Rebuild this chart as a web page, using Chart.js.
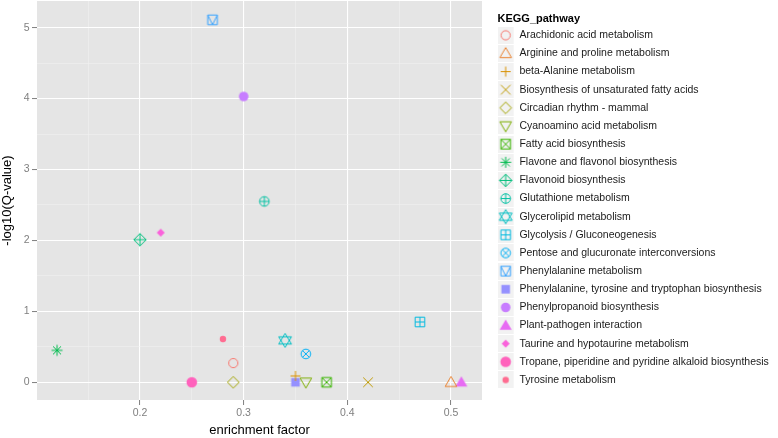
<!DOCTYPE html>
<html lang="en">
<head>
  <meta charset="UTF-8">
  <title>KEGG pathway enrichment</title>
  <script src="https://cdn.jsdelivr.net/npm/chart.js"></script>
  <style>
    html, body { margin: 0; padding: 0; background: #fff; overflow: hidden; }
  </style>
</head>
<body>
  <canvas id="keggChart" width="778" height="438"></canvas>

  <script>
    // data
    const pathways = [
      'Arachidonic acid metabolism',
      'Arginine and proline metabolism',
      'beta-Alanine metabolism',
      'Biosynthesis of unsaturated fatty acids',
      'Circadian rhythm - mammal',
      'Cyanoamino acid metabolism',
      'Fatty acid biosynthesis',
      'Flavone and flavonol biosynthesis',
      'Flavonoid biosynthesis',
      'Glutathione metabolism',
      'Glycerolipid metabolism',
      'Glycolysis / Gluconeogenesis',
      'Pentose and glucuronate interconversions',
      'Phenylalanine metabolism',
      'Phenylalanine, tyrosine and tryptophan biosynthesis',
      'Phenylpropanoid biosynthesis',
      'Plant-pathogen interaction',
      'Taurine and hypotaurine metabolism',
      'Tropane, piperidine and pyridine alkaloid biosynthesis',
      'Tyrosine metabolism'
    ];
    const enrichmentFactor = [0.29, 0.50, 0.35, 0.42, 0.29, 0.36, 0.38, 0.12, 0.20, 0.32,
                              0.34, 0.47, 0.36, 0.27, 0.35, 0.30, 0.51, 0.22, 0.25, 0.28];
    const negLog10Q = [0.27, 0.00, 0.09, 0.00, 0.00, 0.00, 0.00, 0.45, 2.01, 2.55,
                       0.59, 0.85, 0.40, 5.11, 0.00, 4.03, 0.00, 2.11, 0.00, 0.61];
    const xTicks = [0.2, 0.3, 0.4, 0.5];
    const xMinor = [0.15, 0.25, 0.35, 0.45];
    const yTicks = [0, 1, 2, 3, 4, 5];
    const yMinor = [0.5, 1.5, 2.5, 3.5, 4.5];

    // ggplot default hue palette and shapes 1..20
    const colors = ['#F8766D', '#EA8331', '#D89000', '#C09B00', '#A3A500', '#7CAE00', '#39B600',
                    '#00BB4E', '#00BF7D', '#00C1A3', '#00BFC4', '#00BAE0', '#00B0F6', '#35A2FF',
                    '#9590FF', '#C77CFF', '#E76BF3', '#FA62DB', '#FF62BC', '#FF6C91'];
    const shapes = ['circle', 'triangle', 'plus', 'cross', 'diamond', 'triangleDown', 'squareCross',
                    'asterisk', 'diamondPlus', 'circlePlus', 'hexagram', 'squarePlus', 'circleCross',
                    'squareV', 'squareFilled', 'circleFilled', 'triangleFilled', 'diamondFilled',
                    'circleLarge', 'circleSmall'];

    const FONT = 'Liberation Sans, Arial, Helvetica, sans-serif';

    function drawMark(g, shape, cx, cy, color) {
      g.strokeStyle = color;
      g.fillStyle = color;
      g.lineWidth = 1;
      const path = (pts, close) => {
        g.beginPath();
        pts.forEach(([px, py], k) => k ? g.lineTo(cx + px, cy + py) : g.moveTo(cx + px, cy + py));
        if (close) g.closePath();
      };
      const seg = (pts) => { path(pts); g.stroke(); };
      const circle = r => { g.beginPath(); g.arc(cx, cy, r, 0, Math.PI * 2); };
      const square = h => { path([[-h, -h], [h, -h], [h, h], [-h, h]], true); };
      switch (shape) {
        case 'circle': circle(4.6); g.stroke(); break;
        case 'triangle': path([[0, -5.8], [5.8, 4.2], [-5.8, 4.2]], true); g.stroke(); break;
        case 'plus': seg([[-5, 0], [5, 0]]); seg([[0, -5], [0, 5]]); break;
        case 'cross': seg([[-4.8, -4.8], [4.8, 4.8]]); seg([[-4.8, 4.8], [4.8, -4.8]]); break;
        case 'diamond': path([[0, -5.8], [5.8, 0], [0, 5.8], [-5.8, 0]], true); g.stroke(); break;
        case 'triangleDown': path([[0, 5.8], [5.8, -4.2], [-5.8, -4.2]], true); g.stroke(); break;
        case 'squareCross': square(4.8); g.stroke(); seg([[-4.8, -4.8], [4.8, 4.8]]); seg([[-4.8, 4.8], [4.8, -4.8]]); break;
        case 'asterisk':
          seg([[-5.5, 0], [5.5, 0]]); seg([[0, -5.5], [0, 5.5]]);
          seg([[-4, -4], [4, 4]]); seg([[-4, 4], [4, -4]]); break;
        case 'diamondPlus': path([[0, -6.2], [6.2, 0], [0, 6.2], [-6.2, 0]], true); g.stroke();
          seg([[-6.2, 0], [6.2, 0]]); seg([[0, -6.2], [0, 6.2]]); break;
        case 'circlePlus': circle(4.8); g.stroke(); seg([[-4.8, 0], [4.8, 0]]); seg([[0, -4.8], [0, 4.8]]); break;
        case 'hexagram':
          path([[0, -7], [6.4, 3.6], [-6.4, 3.6]], true); g.stroke();
          path([[0, 7], [6.4, -3.6], [-6.4, -3.6]], true); g.stroke(); break;
        case 'squarePlus': square(4.8); g.stroke(); seg([[-4.8, 0], [4.8, 0]]); seg([[0, -4.8], [0, 4.8]]); break;
        case 'circleCross': circle(4.8); g.stroke(); seg([[-3.4, -3.4], [3.4, 3.4]]); seg([[-3.4, 3.4], [3.4, -3.4]]); break;
        case 'squareV': square(4.8); g.stroke(); seg([[-4.8, -4.8], [0, 4.8], [4.8, -4.8]]); break;
        case 'squareFilled': square(4.3); g.fill(); break;
        case 'circleFilled': circle(4.8); g.fill(); break;
        case 'triangleFilled': path([[0, -6], [6, 4.3], [-6, 4.3]], true); g.fill(); break;
        case 'diamondFilled': path([[0, -4], [4, 0], [0, 4], [-4, 0]], true); g.fill(); break;
        case 'circleLarge': circle(5.3); g.fill(); break;
        case 'circleSmall': circle(3.2); g.fill(); break;
      }
    }

    function pointImage(i) {
      const c = document.createElement('canvas');
      c.width = 18; c.height = 18;
      drawMark(c.getContext('2d'), shapes[i], 9, 9, colors[i]);
      return c;
    }

    // legend key: grey box on the left part of a wider canvas so text lines up
    function keyImage(i) {
      const c = document.createElement('canvas');
      c.width = 24; c.height = 17;
      const g = c.getContext('2d');
      g.fillStyle = '#F2F2F2';
      g.fillRect(0, 0, 16, 17);
      drawMark(g, shapes[i], 8, 8.5, colors[i]);
      return c;
    }

    const pointImages = pathways.map((p, i) => pointImage(i));
    const keyImages = pathways.map((p, i) => keyImage(i));

    const isOn = (v, list) => list.some(t => Math.abs(t - v) < 1e-9);
    const tickList = (major, minor) => major.concat(minor).sort((a, b) => a - b).map(v => ({ value: v }));

    const panelBg = {
      id: 'panelBg',
      beforeDraw(chart) {
        const { ctx, chartArea: a } = chart;
        ctx.save();
        ctx.fillStyle = '#fff';
        ctx.fillRect(0, 0, chart.width, chart.height);
        ctx.fillStyle = '#E5E5E5';
        ctx.fillRect(a.left, a.top, a.right - a.left, a.bottom - a.top);
        ctx.restore();
      }
    };

    const gridFor = (major) => ({
      color: c => isOn(c.tick.value, major) ? '#FFFFFF' : '#F2F2F2',
      lineWidth: c => isOn(c.tick.value, major) ? 1.1 : 0.5,
      tickColor: c => isOn(c.tick.value, major) ? '#7F7F7F' : 'rgba(0,0,0,0)',
      tickWidth: 1,
      tickLength: 5
    });

    new Chart(document.getElementById('keggChart'), {
      type: 'scatter',
      data: {
        datasets: pathways.map((name, i) => ({
          label: name,
          data: [{ x: enrichmentFactor[i], y: negLog10Q[i] }],
          pointStyle: pointImages[i],
          pointRadius: 5,
          xAxisID: 'x',
          yAxisID: 'y'
        }))
      },
      options: {
        responsive: false,
        animation: false,
        events: [],
        layout: { autoPadding: false, padding: { top: 1, left: 0, right: 0, bottom: 0 } },
        scales: {
          x: {
            type: 'linear',
            min: 0.1007,
            max: 0.5299,
            afterBuildTicks: s => { s.ticks = tickList(xTicks, xMinor); },
            ticks: {
              autoSkip: false, maxRotation: 0, padding: 1.5, color: '#7F7F7F',
              font: { family: FONT, size: 10.5 },
              callback: v => isOn(v, xTicks) ? String(v) : ''
            },
            grid: gridFor(xTicks),
            border: { display: false },
            title: { display: true, text: 'enrichment factor', color: '#000',
                     font: { family: FONT, size: 13 }, padding: { top: 0, bottom: 0 } },
            afterFit: s => { s.height = 38; s.paddingLeft = 0; s.paddingRight = 0; }
          },
          y: {
            type: 'linear',
            position: 'left',
            min: -0.25,
            max: 5.376,
            afterBuildTicks: s => { s.ticks = tickList(yTicks, yMinor); },
            ticks: {
              autoSkip: false, padding: 2.5, color: '#7F7F7F',
              font: { family: FONT, size: 10.5 },
              callback: v => isOn(v, yTicks) ? String(v) : ''
            },
            grid: gridFor(yTicks),
            border: { display: false },
            title: { display: true, text: '-log10(Q-value)', color: '#000',
                     font: { family: FONT, size: 13 }, padding: { top: 0, bottom: 0 } },
            afterFit: s => { s.width = 37; s.paddingTop = 0; s.paddingBottom = 0; }
          },
          gap: {
            type: 'linear',
            axis: 'y',
            position: 'right',
            grid: { display: false, drawTicks: false },
            border: { display: false },
            ticks: { display: false },
            afterFit: s => { s.width = 15.5; s.paddingTop = 0; s.paddingBottom = 0; }
          }
        },
        plugins: {
          tooltip: { enabled: false },
          legend: {
            position: 'right',
            align: 'start',
            maxWidth: 280.5,
            title: {
              display: true, text: 'KEGG_pathway', color: '#000', position: 'start',
              font: { family: FONT, size: 11, weight: 'bold' },
              padding: { top: 12.8, bottom: -4.6 }
            },
            labels: {
              usePointStyle: true,
              pointStyleWidth: 9,
              padding: 7.64,
              color: '#1A1A1A',
              font: { family: FONT, size: 10.5 },
              generateLabels: () => pathways.map((name, i) => ({
                text: name,
                pointStyle: keyImages[i],
                fillStyle: 'rgba(0,0,0,0)',
                strokeStyle: 'rgba(0,0,0,0)',
                lineWidth: 0,
                hidden: false,
                datasetIndex: i,
                fontColor: '#1A1A1A'
              }))
            }
          }
        }
      },
      plugins: [panelBg]
    });
  </script>
</body>
</html>
